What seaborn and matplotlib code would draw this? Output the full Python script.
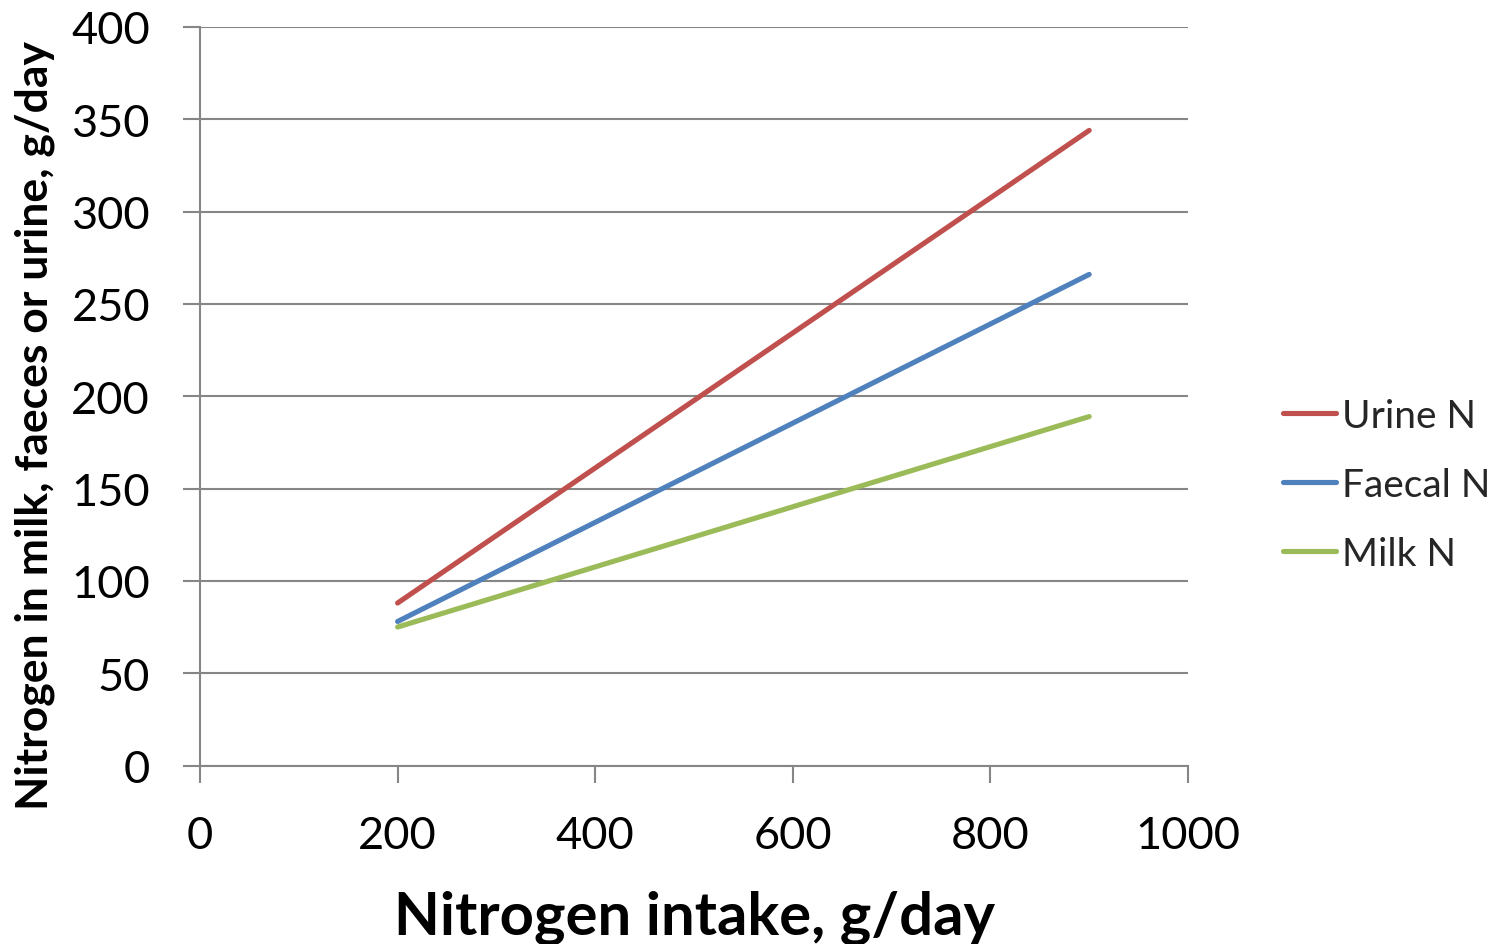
import matplotlib
matplotlib.use("Agg")
import matplotlib.pyplot as plt
import seaborn as sns
import pandas as pd

# Nitrogen partitioning versus intake (g/day)
intake = [200, 900]
urine_n = [88, 344]
faecal_n = [78, 266]
milk_n = [75, 189]

series_names = ["Urine N", "Faecal N", "Milk N"]
series_colors = ["#C0504D", "#4F81BD", "#9BBB59"]

x_ticks = [0, 200, 400, 600, 800, 1000]
y_ticks = [0, 50, 100, 150, 200, 250, 300, 350, 400]

df = pd.concat([
    pd.DataFrame({"intake": intake, "value": urine_n, "series": series_names[0]}),
    pd.DataFrame({"intake": intake, "value": faecal_n, "series": series_names[1]}),
    pd.DataFrame({"intake": intake, "value": milk_n, "series": series_names[2]}),
], ignore_index=True)

sns.set_theme(style="white")
plt.rcParams["font.family"] = ["Lato", "DejaVu Sans"]

grey = "#868686"
fig = plt.figure(figsize=(14.9, 9.45), dpi=100)
ax = fig.add_axes([200 / 1490, 1 - 766.5 / 945, 988 / 1490, 738.5 / 945])

sns.lineplot(data=df, x="intake", y="value", hue="series",
             palette=dict(zip(series_names, series_colors)),
             hue_order=series_names, linewidth=3.7, ax=ax,
             solid_capstyle="round", legend=False)

ax.set_xlim(0, 1000)
ax.set_ylim(0, 400)
ax.set_xticks(x_ticks)
ax.set_yticks(y_ticks)
ax.set_xticklabels([str(t) for t in x_ticks])
ax.set_yticklabels([str(t) for t in y_ticks])

ax.yaxis.grid(True, color=grey, linewidth=1.5)
ax.xaxis.grid(False)
ax.set_axisbelow(True)
for side in ["top", "right"]:
    ax.spines[side].set_visible(False)
for side in ["left", "bottom"]:
    ax.spines[side].set_color(grey)
    ax.spines[side].set_linewidth(1.5)

ax.tick_params(axis="both", which="major", direction="out", length=12,
               width=1.5, color=grey, labelsize=32.5, labelcolor="black")
ax.tick_params(axis="y", pad=24)
ax.tick_params(axis="x", pad=24)
ax.tick_params(bottom=True, left=True)

ax.set_xlabel("Nitrogen intake, g/day", fontsize=43, fontweight="bold",
              color="black", labelpad=24)
ax.set_ylabel("Nitrogen in milk, faeces or urine, g/day", fontsize=32,
              fontweight="bold", color="black")
ax.yaxis.set_label_coords((55 - 200) / 988, (766.5 - 425) / 738.5)

handles = [plt.Line2D([], [], color=c, linewidth=3.7, solid_capstyle="round")
           for c in series_colors]
ax.legend(handles, series_names, loc="center left",
          bbox_to_anchor=(1283 / 1490, 1 - 486 / 945),
          bbox_transform=fig.transFigure, frameon=False, fontsize=28,
          handlelength=1.35, handletextpad=0.18, labelspacing=0.85,
          borderaxespad=0, borderpad=0)

fig.savefig("out.png", dpi=100)
